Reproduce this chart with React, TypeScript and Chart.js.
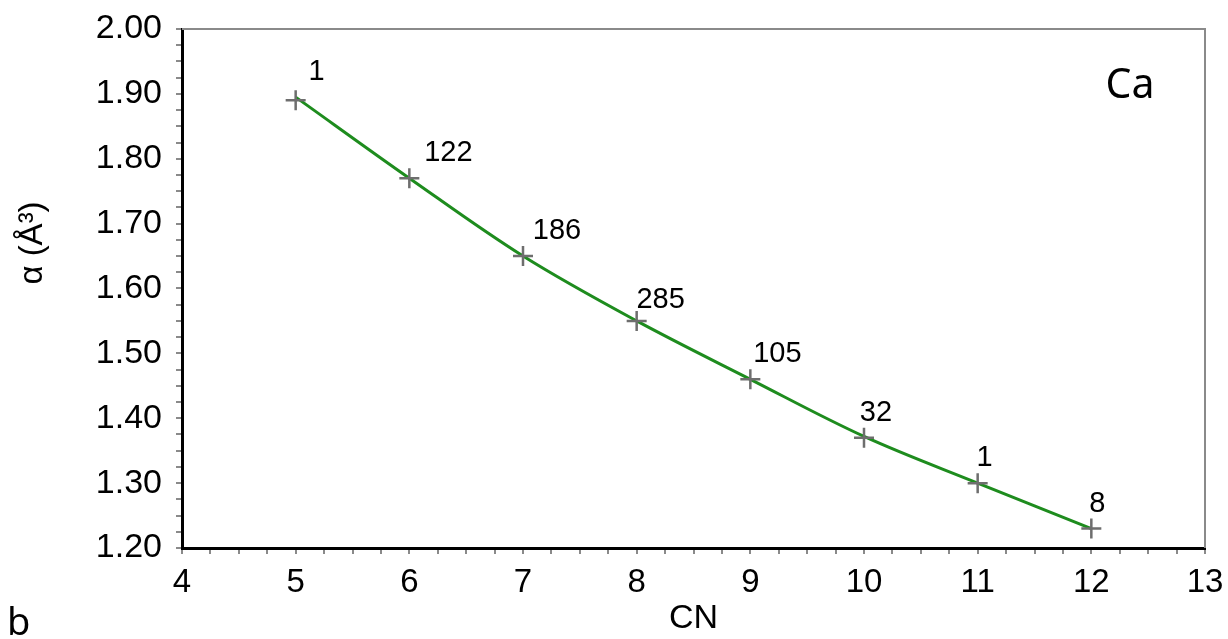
import React, { useEffect, useRef } from 'react';
import { Chart, registerables } from 'chart.js';

Chart.register(...registerables);

// ---- data ----
const cnValues = [5, 6, 7, 8, 9, 10, 11, 12];
const alphaValues = [1.89, 1.77, 1.65, 1.55, 1.46, 1.37, 1.3, 1.23];
const fitValues = [1.895, 1.77, 1.65, 1.55, 1.46, 1.372, 1.3, 1.23];
const countLabels = ['1', '122', '186', '285', '105', '32', '1', '8'];
const xRange = [4, 13];
const yRange = [1.2, 2.0];
const xTitle = 'CN';
const yTitle = 'α (Å³)';
const elementLabel = 'Ca';
const panelLabel = 'b';

// ---- style: label offsets (px) relative to each marker ----
const labelShift = [
  [21, -28],
  [39, -25],
  [34, -25],
  [24, -21],
  [27, -25],
  [12, -25],
  [7, -25],
  [6, -25],
];

const FONT = '"Liberation Sans", Arial, sans-serif';

const decorPlugin = {
  id: 'decor',
  afterDatasetsDraw(chart: any) {
    const { ctx, chartArea } = chart;
    ctx.save();
    // top & right frame lines (gray)
    ctx.strokeStyle = '#8a8a8a';
    ctx.lineWidth = 2;
    ctx.beginPath();
    ctx.moveTo(chartArea.left, chartArea.top);
    ctx.lineTo(chartArea.right, chartArea.top);
    ctx.lineTo(chartArea.right, chartArea.bottom);
    ctx.stroke();

    // count labels
    const meta = chart.getDatasetMeta(0);
    ctx.fillStyle = '#000';
    ctx.font = `29px ${FONT}`;
    ctx.textAlign = 'center';
    ctx.textBaseline = 'middle';
    meta.data.forEach((el: any, i: number) => {
      const s = labelShift[i] || [15, -25];
      ctx.fillText(countLabels[i], el.x + s[0], el.y + s[1]);
    });

    // element label
    ctx.font = `41px "Noto Sans", sans-serif`;
    ctx.textAlign = 'center';
    ctx.textBaseline = 'middle';
    ctx.fillText(elementLabel, 1130, 86);

    // panel label
    ctx.font = `38px "Noto Sans", sans-serif`;
    ctx.textAlign = 'left';
    ctx.textBaseline = 'alphabetic';
    ctx.fillText(panelLabel, 7, 635);

    // y title
    ctx.translate(33, 243);
    ctx.rotate(-Math.PI / 2);
    ctx.font = `33px ${FONT}`;
    ctx.textAlign = 'center';
    ctx.textBaseline = 'middle';
    ctx.fillText(yTitle, 0, 0);
    ctx.restore();
  },
};

export default function App() {
  const ref = useRef<HTMLCanvasElement>(null);

  useEffect(() => {
    document.body.style.margin = '0';
    const canvas = ref.current;
    if (!canvas) return;
    const chart = new Chart(canvas, {
      type: 'line',
      data: {
        datasets: [
          {
            label: 'observed',
            data: cnValues.map((x, i) => ({ x, y: alphaValues[i] })),
            showLine: false,
            pointStyle: 'cross',
            pointRadius: 10,
            pointBorderWidth: 2.5,
            pointBorderColor: '#6e6e6e',
            pointBackgroundColor: '#6e6e6e',
          },
          {
            label: 'fit',
            data: cnValues.map((x, i) => ({ x, y: fitValues[i] })),
            borderColor: '#1e8c1e',
            borderWidth: 3,
            pointRadius: 0,
            tension: 0.35,
            fill: false,
          },
        ],
      },
      options: {
        responsive: false,
        animation: false,
        events: [],
        layout: { padding: { left: 0, top: 29, right: 23, bottom: 0 } },
        plugins: {
          legend: { display: false },
          tooltip: { enabled: false },
        },
        scales: {
          x: {
            type: 'linear',
            min: xRange[0],
            max: xRange[1],
            afterFit: (scale: any) => {
              scale.height = 91;
              scale.paddingLeft = 0;
              scale.paddingRight = 0;
            },
            grid: {
              display: true,
              drawOnChartArea: false,
              drawTicks: true,
              tickLength: 6,
              color: '#8a8a8a',
              lineWidth: 2,
            },
            border: { display: true, color: '#000', width: 3 },
            ticks: {
              stepSize: 0.25,
              autoSkip: false,
              maxRotation: 0,
              padding: 9,
              color: '#000',
              font: { family: FONT, size: 33 },
              callback: (v: any) => {
                const n = Number(v);
                return Math.abs(n - Math.round(n)) < 1e-6 ? String(Math.round(n)) : '';
              },
            },
            title: {
              display: true,
              text: xTitle,
              color: '#000',
              font: { family: FONT, size: 34 },
              padding: { top: 0, bottom: 0 },
            },
          },
          y: {
            type: 'linear',
            min: yRange[0],
            max: yRange[1],
            afterFit: (scale: any) => {
              scale.width = 182;
              scale.paddingTop = 0;
              scale.paddingBottom = 0;
            },
            grid: {
              display: true,
              drawOnChartArea: false,
              drawTicks: true,
              tickLength: 6,
              color: '#8a8a8a',
              lineWidth: 2,
            },
            border: { display: true, color: '#000', width: 3 },
            ticks: {
              stepSize: 0.025,
              autoSkip: false,
              padding: 14,
              color: '#000',
              font: { family: FONT, size: 34 },
              callback: (v: any) => {
                const n = Number(v) * 10;
                return Math.abs(n - Math.round(n)) < 1e-6 ? (Math.round(n) / 10).toFixed(2) : '';
              },
            },
          },
        },
      },
      plugins: [decorPlugin],
    } as any);
    return () => chart.destroy();
  }, []);

  return (
    <div style={{ width: 1228, height: 639, background: '#fff' }}>
      <canvas ref={ref} width={1228} height={639} style={{ display: 'block' }} />
    </div>
  );
}
